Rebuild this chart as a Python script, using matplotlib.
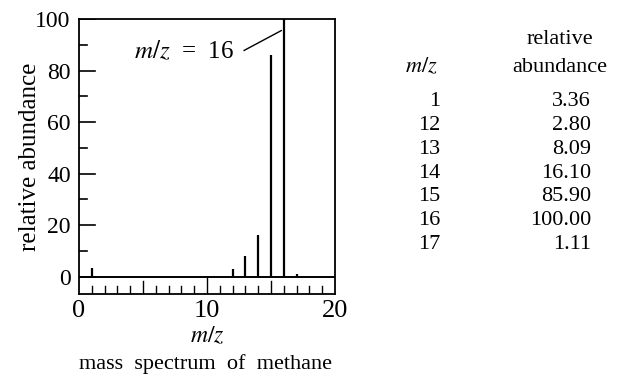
import matplotlib.pyplot as plt

# mass spectrum of methane (values from the table)
mz = [1, 12, 13, 14, 15, 16, 17]
abundance = [3.36, 2.80, 8.09, 16.10, 85.90, 100.00, 1.11]
mz_labels = ['1', '12', '13', '14', '15', '16', '17']
abundance_labels = ['3.36', '2.80', '8.09', '16.10', '85.90', '100.00', '1.11']

plt.rcParams['font.family'] = ['Liberation Serif', 'DejaVu Serif']
plt.rcParams['mathtext.fontset'] = 'stix'

fig = plt.figure(figsize=(6.17, 3.8), dpi=100)
ax = fig.add_axes([0.128, 0.226, 0.415, 0.724])

ylo = -6.8
ax.set_xlim(0, 20)
ax.set_ylim(ylo, 100)

# peaks
ax.vlines(mz, 0, abundance, color='black', lw=1.6)
ax.axhline(0, color='black', lw=1.4)

# tick strip under the baseline
for x in range(1, 20):
    if x == 10:
        top = 0
    elif x in (5, 15):
        top = ylo + 5.0
    else:
        top = ylo + 3.2
    ax.plot([x, x], [ylo, top], color='black', lw=1.0)

# y ticks drawn inward from the left spine
for y in range(0, 101, 10):
    length = 1.25 if y % 20 == 0 else 0.6
    ax.plot([0, length], [y, y], color='black', lw=1.2)

ax.set_xticks([0, 10, 20])
ax.set_yticks([0, 20, 40, 60, 80, 100])
ax.tick_params(length=0, labelsize=17, pad=6)
ax.tick_params(axis='x', labelsize=19, pad=4)
for s in ax.spines.values():
    s.set_linewidth(1.3)

ax.set_ylabel('relative abundance', fontsize=18, labelpad=-4)
ax.set_xlabel('$m/z$', fontsize=17, labelpad=3)
fig.text(0.333, 0.03, 'mass  spectrum  of  methane', ha='center', fontsize=16)

# label for the base peak
ax.text(4.3, 87.3, '$m/z$  =  16', fontsize=18, va='center')
ax.plot([12.9, 15.8], [87.8, 95.5], color='black', lw=1.0)

# table on the right
fig.text(0.907, 0.885, 'relative', ha='center', fontsize=16)
fig.text(0.907, 0.81, 'abundance', ha='center', fontsize=16)
fig.text(0.71, 0.81, '$m/z$', ha='right', fontsize=16)
for i in range(len(mz_labels)):
    y = 0.72 - i * 0.0625
    fig.text(0.714, y, mz_labels[i], ha='right', fontsize=16)
    fig.text(0.958, y, abundance_labels[i], ha='right', fontsize=16)

fig.savefig('out.png', dpi=100)
